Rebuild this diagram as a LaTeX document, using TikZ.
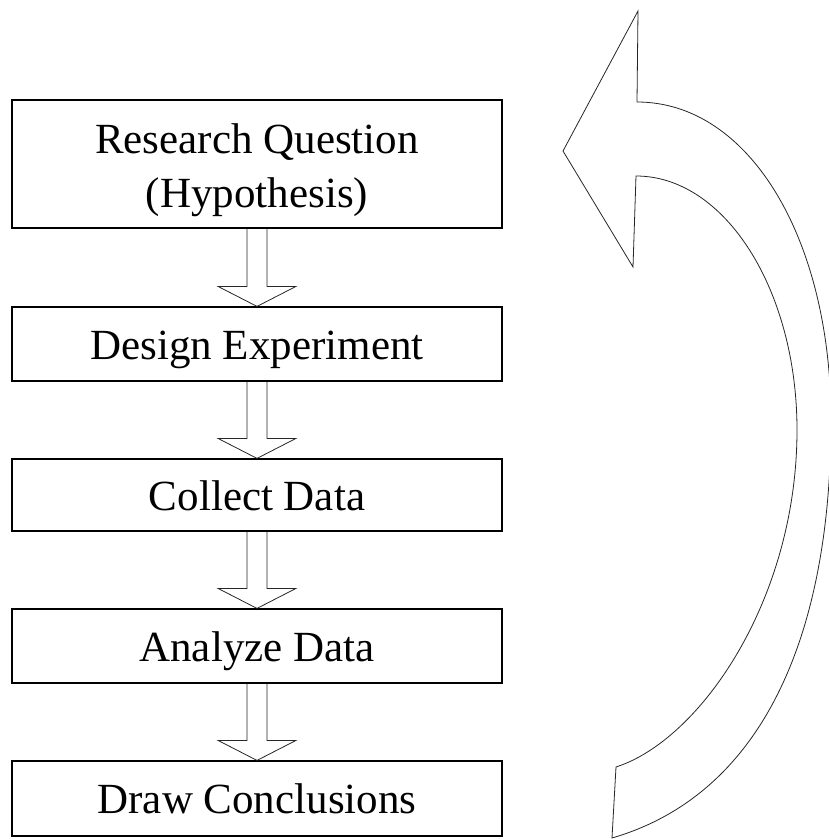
\documentclass[tikz,border=0pt]{standalone}
\usepackage{fontspec}
\setmainfont{Liberation Serif}
\usetikzlibrary{calc}
\tikzset{
  stagebox/.style={draw, line width=1.2pt, minimum width=490pt, inner sep=0pt,
    font=\fontsize{43}{54}\selectfont, text height=31pt, text depth=1pt},
  blockarr/.style={draw, line width=0.8pt, black!85, line join=miter,
    to path={($(\tikztostart)+(-10,0)$) -- ($(\tikztotarget)+(-10,-20)$)
      -- ($(\tikztotarget)+(-39,-20)$) -- (\tikztotarget)
      -- ($(\tikztotarget)+(39,-20)$) -- ($(\tikztotarget)+(10,-20)$)
      -- ($(\tikztostart)+(10,0)$)}},
  looparr/.style={draw, line width=0.8pt, black!85, line join=miter}
}
\begin{document}
\begin{tikzpicture}[x=1pt,y=-1pt]
\useasboundingbox (0,0) rectangle (829,839);
\node[stagebox, minimum height=128pt, text height=87pt, text depth=1pt] (rq) at (257,164)
  {\vbox{\baselineskip=54pt\halign{\hfil#\hfil\cr Research Question\cr (Hypothesis)\cr}}};
\node[stagebox, minimum height=74pt] (de) at (257,344) {Design Experiment};
\node[stagebox, minimum height=72pt] (cd) at (257,495) {Collect Data};
\node[stagebox, minimum height=74pt] (ad) at (257,646) {Analyze Data};
\node[stagebox, minimum height=75pt] (dc) at (257,798.5) {Draw Conclusions};
\draw[blockarr] (rq.south) to (de.north);
\draw[blockarr] (de.south) to (cd.north);
\draw[blockarr] (cd.south) to (ad.north);
\draw[blockarr] (ad.south) to (dc.north);
\draw[looparr] (612,838) .. controls (760,795) and (831,640) .. (831,420)
  .. controls (831,240) and (750,102) .. (637,102) -- (638,11) -- (563,151)
  -- (633,267) -- (636,176) .. controls (725,176) and (797,290) .. (797,430)
  .. controls (797,600) and (700,740) .. (616,767) -- cycle;
\end{tikzpicture}
\end{document}
